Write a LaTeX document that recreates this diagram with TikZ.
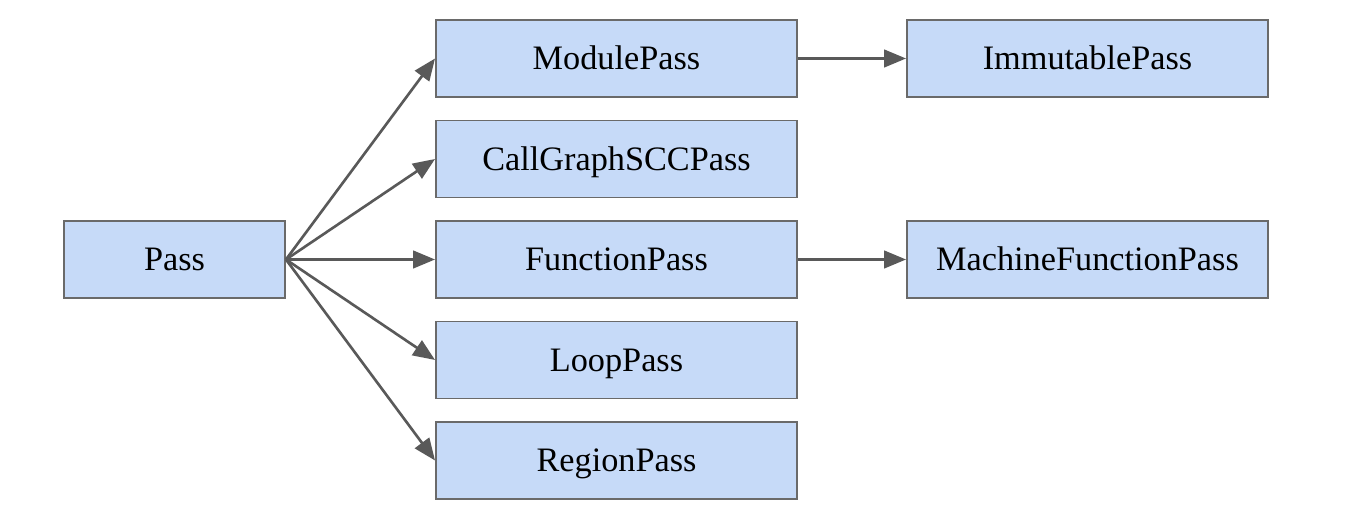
\documentclass[tikz,border=0pt]{standalone}
\usepackage{fontspec}
\setmainfont{Liberation Serif}
\usetikzlibrary{arrows.meta, positioning}
\definecolor{PassF} {HTML}{C6DAF8}
\definecolor{PassD} {HTML}{6A6A6A}
\definecolor{ArrG}  {HTML}{595959}
\tikzset{
  pbox/.style args={#1}{
    rectangle, draw=PassD, fill=PassF, text=black,
    font=\fontsize{19.5}{23}\selectfont,
    inner sep=0pt, minimum width=#1, minimum height=1.54cm,
    text height=13pt, text depth=0pt,
    line width=1.1pt,
  },
  arr/.style={
    -{Triangle[length=12.5pt,width=10pt]},
    line width=1.5pt, color=ArrG,
  },
}
\begin{document}
\begin{tikzpicture}[x=1cm,y=1cm]
    \useasboundingbox (0,0) rectangle (27.4,10.6);
    \node[pbox=4.42cm] (pass) at (3.49,5.41)  {Pass};
    \node[pbox=7.22cm] (mod)  at (12.33,9.43) {ModulePass};
    \node[pbox=7.22cm] (cgs)  at (12.33,7.42) {CallGraphSCCPass};
    \node[pbox=7.22cm] (fun)  at (12.33,5.41) {FunctionPass};
    \node[pbox=7.22cm] (loop) at (12.33,3.40) {LoopPass};
    \node[pbox=7.22cm] (reg)  at (12.33,1.39) {RegionPass};
    \node[pbox=7.22cm] (imm)  at (21.75,9.43) {ImmutablePass};
    \node[pbox=7.22cm] (mfp)  at (21.75,5.41) {MachineFunctionPass};

    \foreach \t in {mod,cgs,fun,loop,reg}
      \draw[arr] (pass.east)--(\t.west);
    \draw[arr] (mod)--(imm);
    \draw[arr] (fun)--(mfp);
  \end{tikzpicture}
\end{document}
